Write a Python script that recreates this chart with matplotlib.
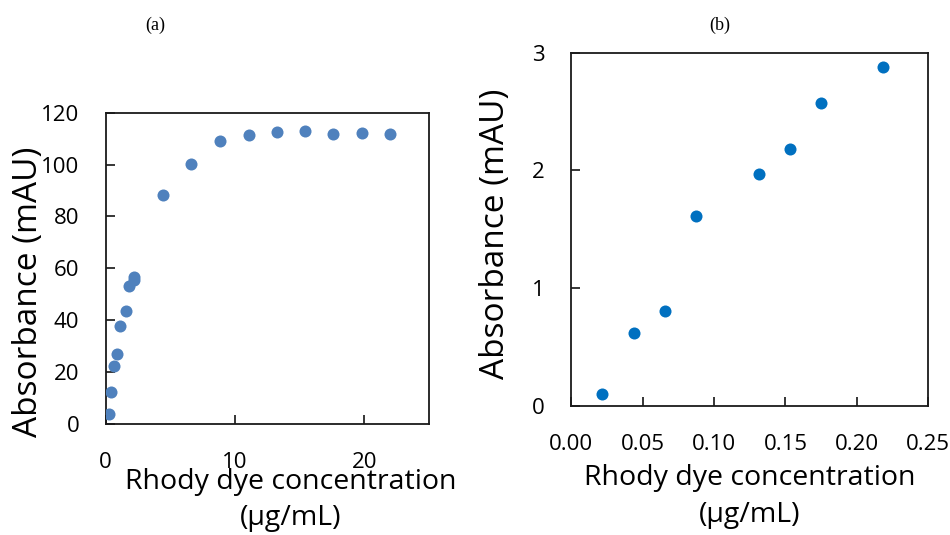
import matplotlib
matplotlib.use('Agg')
import matplotlib.pyplot as plt

# (a) full concentration range, absorbance saturates
conc_a = [0.26, 0.41, 0.64, 0.90, 1.11, 1.55, 1.79, 2.22, 2.22, 4.43, 6.63,
          8.86, 11.06, 13.26, 15.43, 17.60, 19.78, 21.99]
abs_a = [3.7, 12.3, 22.2, 26.9, 37.9, 43.4, 53.2, 55.5, 56.8, 88.4, 100.1,
         109.1, 111.4, 112.7, 113.1, 111.8, 112.3, 111.8]

# (b) low concentration, linear region
conc_b = [0.0219, 0.0440, 0.0658, 0.0877, 0.1313, 0.1532, 0.1752, 0.2183]
abs_b = [0.10, 0.62, 0.81, 1.61, 1.97, 2.18, 2.57, 2.88]

xticks_a = [0, 10, 20]
yticks_a = [0, 20, 40, 60, 80, 100, 120]
xticks_b = [0.00, 0.05, 0.10, 0.15, 0.20, 0.25]
yticks_b = [0, 1, 2, 3]

plt.rcParams['font.family'] = ['Open Sans', 'DejaVu Sans']

fig = plt.figure(figsize=(9.5, 5.35), dpi=100)
ax_a = fig.add_axes([0.1113, 0.2075, 0.3403, 0.5818])
ax_b = fig.add_axes([0.6011, 0.2411, 0.3761, 0.6604])

xlabel = 'Rhody dye concentration\n(\u03bcg/mL)'
ylabel = 'Absorbance (mAU)'

ax_a.scatter(conc_a, abs_a, s=75, color='#4F81BD', linewidths=0, zorder=3)
ax_a.set_xlim(0, 25)
ax_a.set_ylim(0, 120)
ax_a.set_xticks(xticks_a)
ax_a.set_yticks(yticks_a)

ax_b.scatter(conc_b, abs_b, s=75, color='#0070C0', linewidths=0, zorder=3)
ax_b.set_xlim(0, 0.25)
ax_b.set_ylim(0, 3)
ax_b.set_xticks(xticks_b)
ax_b.set_xticklabels([f'{t:.2f}' for t in xticks_b])
ax_b.set_yticks(yticks_b)

for ax in (ax_a, ax_b):
    for sp in ax.spines.values():
        sp.set_linewidth(1.3)
        sp.set_color('#1a1a1a')
    ax.tick_params(direction='in', length=6.5, width=1.1, labelsize=16,
                   top=False, right=False)
    ax.tick_params(axis='x', pad=20)
    ax.tick_params(axis='y', pad=19)
    ax.set_xlabel(xlabel, fontsize=20.5, linespacing=1.4)
    ax.set_ylabel(ylabel, fontsize=24)

ax_a.xaxis.set_label_coords(0.573, -0.14)
ax_a.yaxis.set_label_coords(-0.188, 0.424)
ax_b.xaxis.set_label_coords(0.5, -0.165)
ax_b.yaxis.set_label_coords(-0.165, 0.487)

fig.text(155 / 950, 1 - 25 / 535, '(a)', family='Liberation Serif',
         fontsize=13, ha='center', va='center')
fig.text(720 / 950, 1 - 25 / 535, '(b)', family='Liberation Serif',
         fontsize=13, ha='center', va='center')

fig.savefig('out.png', dpi=100)
